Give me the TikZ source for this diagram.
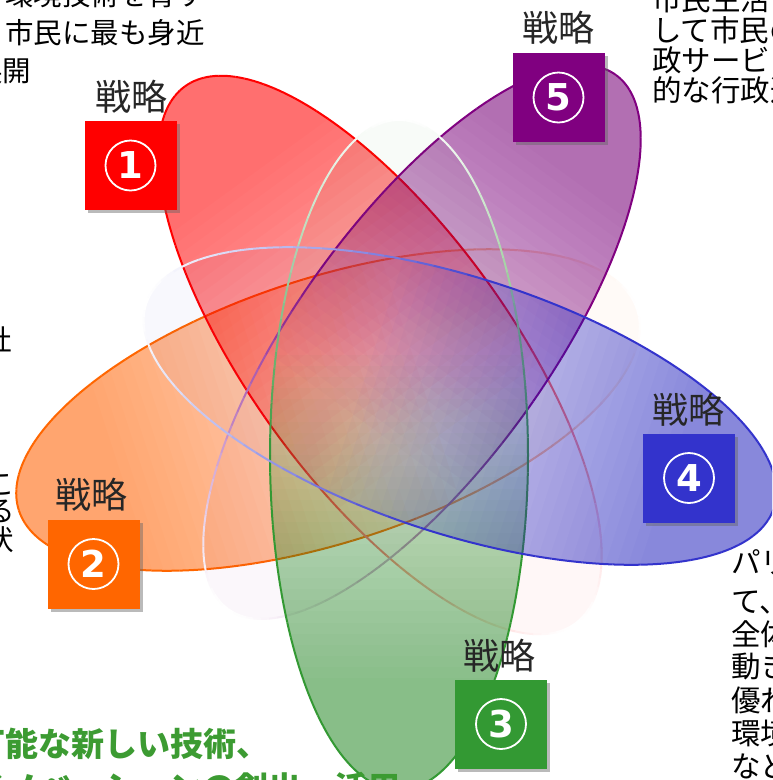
\documentclass[tikz,border=0pt]{standalone}
\usepackage{fontspec}
\newfontfamily\cjk{Noto Sans CJK JP}
\newfontfamily\numfont{DejaVu Sans}
\usetikzlibrary{shadows}
\definecolor{cRed}{RGB}{255,0,0}
\definecolor{cOrange}{RGB}{255,102,0}
\definecolor{cGreen}{RGB}{51,153,51}
\definecolor{cBlue}{RGB}{51,51,204}
\definecolor{cPurple}{RGB}{128,0,128}
\definecolor{txtGreen}{RGB}{60,155,50}
\tikzset{
  numbox/.style={minimum width=92pt, minimum height=89pt, inner sep=0pt,
    drop shadow={shadow xshift=3pt, shadow yshift=-3pt, opacity=0.45, fill=black!60}},
  numring/.style={circle, draw=white, line width=1.8pt, minimum size=50pt, inner sep=0pt},
  numdigit/.style={text=white, inner sep=0pt, font=\numfont\bfseries\fontsize{37}{37}\selectfont},
  strat/.style={text=black!85, inner sep=0pt, font=\cjk\fontsize{36}{36}\selectfont},
  bodyA/.style={text=black, inner sep=0pt, anchor=base west, font=\cjk\fontsize{28.5}{28.5}\selectfont},
  bodyB/.style={text=black, inner sep=0pt, anchor=base west, font=\cjk\fontsize{29.5}{29.5}\selectfont},
  greentext/.style={text=txtGreen, inner sep=0pt, anchor=base west, font=\cjk\bfseries\fontsize{33}{33}\selectfont},
}
\newcommand\petal[6]{%
 \begin{scope}[shift={(#1,#2)}, rotate=#3]
  \begin{scope}
   \clip (0,0) ellipse [x radius=#4, y radius=#5];
   \fill[#6, fill opacity=0.03] (-#4-2,-#5-2) rectangle (#4+2,#5+2);
   \foreach \i in {0,...,29}{
     \pgfmathsetmacro\xa{#4*(-0.3+1.0*\i/30)}
     \fill[#6, fill opacity=0.0219] (\xa,-#5-2) rectangle (#4+2,#5+2);
   }
  \end{scope}
  \foreach \t in {0,3,...,357}{
    \pgfmathsetmacro\p{min(100,max(0,100*(cos(\t+1.5)+1)))}
    \draw[#6!\p!white, line width=2pt] (\t:#4 and #5) arc[start angle=\t, delta angle=3, x radius=#4, y radius=#5];
  }
 \end{scope}}
\begin{document}
\begin{tikzpicture}[x=1pt, y=-1pt]
\useasboundingbox (0,0) rectangle (772,780);
\clip (0,0) rectangle (772,780);
\fill[white] (0,0) rectangle (772,780);
% petals
\petal{328}{410}{198}{325}{132}{cOrange}
\petal{380}{355}{126}{332}{130}{cRed}
\petal{422}{342}{54}{330}{125}{cPurple}
\petal{399}{455}{-90}{335}{129}{cGreen}
\petal{460}{406}{-18}{330}{128}{cBlue}
% boxes
\node[numbox, fill=cRed] (b1) at (130.5,165.5) {};
\node[numbox, fill=cOrange] (b2) at (93.5,564) {};
\node[numbox, fill=cGreen] (b3) at (501,724) {};
\node[numbox, fill=cBlue] (b4) at (689,478) {};
\node[numbox, fill=cPurple] (b5) at (558.5,97.5) {};
\foreach \k in {1,...,5}{
  \node[numring] (r\k) at (b\k.center) {};
  \node[numdigit] (d\k) at (b\k.center) {\k};
}
% strategy labels
\node[strat] (s1) at (131,97) {戦略};
\node[strat] (s2) at (92,495) {戦略};
\node[strat] (s3) at (499,656) {戦略};
\node[strat] (s4) at (688,410) {戦略};
\node[strat] (s5) at (558,28) {戦略};
% top-left text
\node[bodyA] (tl1) at (5,5) {環境技術を育す};
\node[bodyA] (tl2) at (5,43) {市民に最も身近};
\node[bodyA] (tl3) at (-26,81) {展開};
% left text
\node[bodyA] (l1) at (-17,350) {社};
\node[bodyA] (l2) at (-14,494) {こ};
\node[bodyA] (l3) at (-14,521) {る};
\node[bodyA] (l4) at (-15,550) {状};
% top-right text
\node[bodyB] (tr1) at (652,10) {市民生活};
\node[bodyB] (tr2) at (652,41) {して市民の};
\node[bodyB] (tr3) at (652,71) {政サービス};
\node[bodyB] (tr4) at (652,101) {的な行政運};
% bottom-right text
\node[bodyB] (br1) at (731,573) {パリ};
\node[bodyB] (br2) at (731,612) {て、};
\node[bodyB] (br3) at (731,645) {全体};
\node[bodyB] (br4) at (731,677) {動き};
\node[bodyB] (br5) at (731,711) {優れ};
\node[bodyB] (br6) at (731,744) {環境};
\node[bodyB] (br7) at (731,777) {など};
% bottom-left green text
\node[greentext] (g1) at (-28,756) {可能な新しい技術、};
\node[greentext] (g2) at (-28,800) {イノベーションの創出・活用};
\end{tikzpicture}
\end{document}
